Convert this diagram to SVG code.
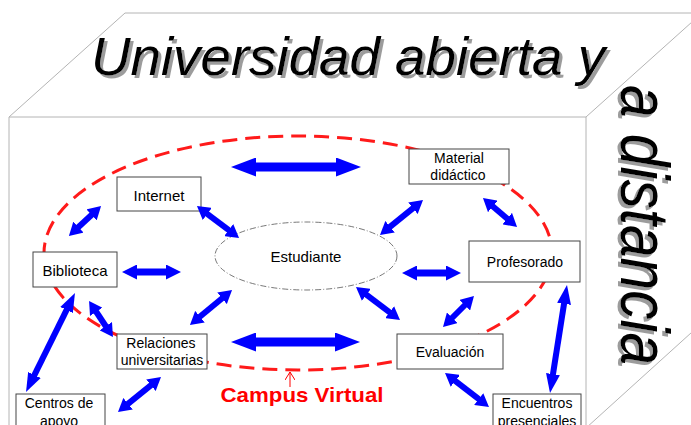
<svg xmlns="http://www.w3.org/2000/svg" width="691" height="425" viewBox="0 0 691 425">
<defs>
<style>
.cube{fill:none;stroke:#b4b4b4;stroke-width:1}
.box{fill:#fff;stroke:#444;stroke-width:1}
.lbl{font-family:"Liberation Sans",Arial,sans-serif;font-size:14px;fill:#000;text-anchor:middle}
.big{stroke:#0000ff;stroke-width:9;fill:none;marker-start:url(#hb);marker-end:url(#hb)}
.med{stroke:#0000ff;stroke-width:7;fill:none;marker-start:url(#hm);marker-end:url(#hm)}
.sm{stroke:#0000ff;stroke-width:6;fill:none;marker-start:url(#hs);marker-end:url(#hs)}
.lg{stroke:#0000ff;stroke-width:6;fill:none;marker-start:url(#hl);marker-end:url(#hl)}
.title{font-family:"Liberation Sans",Arial,sans-serif;font-style:italic;fill:#000;filter:url(#sh)}
</style>
<filter id="sh" x="-10%" y="-20%" width="130%" height="150%">
<feOffset in="SourceAlpha" dx="3" dy="3" result="o"/>
<feFlood flood-color="#9c9c9c"/>
<feComposite in2="o" operator="in" result="s"/>
<feMerge><feMergeNode in="s"/><feMergeNode in="SourceGraphic"/></feMerge>
</filter>
<marker id="hb" markerUnits="userSpaceOnUse" orient="auto-start-reverse" markerWidth="25" markerHeight="19" refX="1" refY="9.5" viewBox="0 0 25 19"><path d="M0,0 L25,9.5 L0,19 z" fill="#0000ff"/></marker>
<marker id="hm" markerUnits="userSpaceOnUse" orient="auto-start-reverse" markerWidth="15" markerHeight="15" refX="1" refY="7.5" viewBox="0 0 15 15"><path d="M0,0 L15,7.5 L0,15 z" fill="#0000ff"/></marker>
<marker id="hs" markerUnits="userSpaceOnUse" orient="auto-start-reverse" markerWidth="13" markerHeight="15" refX="1" refY="7.5" viewBox="0 0 13 15"><path d="M0,0 L13,7.5 L0,15 z" fill="#0000ff"/></marker>
<marker id="hl" markerUnits="userSpaceOnUse" orient="auto-start-reverse" markerWidth="19" markerHeight="14" refX="1" refY="7" viewBox="0 0 19 14"><path d="M0,0 L19,7 L0,14 z" fill="#0000ff"/></marker>
<marker id="ha" markerUnits="userSpaceOnUse" orient="auto" markerWidth="9" markerHeight="10" refX="8" refY="5" viewBox="0 0 9 10"><path d="M0,0 L8,5 L0,10" fill="none" stroke="#ff0000" stroke-width="1"/></marker>
</defs>
<rect width="691" height="425" fill="#fff"/>
<g id="cube">
<path class="cube" d="M9,117 L125,13 L691,13 M9,117 L586,117 L702,13 M9,117 L9,430 M586,117 L586,430 M586,428 L702,323"/>
</g>
<g id="title">
<text class="title" x="91" y="75" font-size="54" textLength="514" lengthAdjust="spacingAndGlyphs">Universidad abierta y</text>
<g transform="translate(621,85) rotate(90)">
<text class="title" x="0" y="0" font-size="68" textLength="280" lengthAdjust="spacingAndGlyphs">a distancia</text>
</g>
</g>
<g id="campus">
<ellipse cx="298" cy="253" rx="254" ry="117" fill="none" stroke="#ff1a1a" stroke-width="3" stroke-dasharray="15 8"/>
<line x1="290" y1="387" x2="290" y2="372" stroke="#ff0000" stroke-width="1" marker-end="url(#ha)"/>
<text x="302" y="402" font-family="Liberation Sans,Arial,sans-serif" font-size="21" font-weight="bold" fill="#ff0000" text-anchor="middle" textLength="163" lengthAdjust="spacingAndGlyphs">Campus Virtual</text>
</g>
<g id="estudiante">
<ellipse cx="306" cy="256" rx="91" ry="34" fill="#fff" stroke="#555" stroke-width="0.8" stroke-dasharray="6 2 1 2"/>
<text class="lbl" x="306" y="262" style="font-size:15px">Estudiante</text>
</g>
<g id="internet">
<rect class="box" x="117" y="177" width="84" height="34"/>
<text class="lbl" x="159" y="201" style="font-size:15px">Internet</text>
</g>
<g id="biblioteca">
<rect class="box" x="33" y="252" width="84" height="35"/>
<text class="lbl" x="75" y="276" style="font-size:15px">Biblioteca</text>
</g>
<g id="material">
<rect class="box" x="409" y="149" width="100" height="35"/>
<text class="lbl" x="459" y="163">Material</text>
<text class="lbl" x="458" y="180">didáctico</text>
</g>
<g id="profesorado">
<rect class="box" x="469" y="241" width="111" height="41"/>
<text class="lbl" x="525" y="267">Profesorado</text>
</g>
<g id="relaciones">
<rect class="box" x="117" y="334" width="90" height="35"/>
<text class="lbl" x="161" y="348">Relaciones</text>
<text class="lbl" x="162" y="365">universitarias</text>
</g>
<g id="evaluacion">
<rect class="box" x="397" y="334" width="106" height="35"/>
<text class="lbl" x="450" y="357">Evaluación</text>
</g>
<g id="centros">
<rect class="box" x="16" y="394" width="89" height="40"/>
<text class="lbl" x="59" y="408">Centros de</text>
<text class="lbl" x="59" y="426">apoyo</text>
</g>
<g id="encuentros">
<rect class="box" x="493" y="394" width="88" height="40"/>
<text class="lbl" x="537" y="408">Encuentros</text>
<text class="lbl" x="537" y="426">presenciales</text>
</g>
<g id="connectors">
<line class="big" x1="255" y1="167" x2="337" y2="167"/>
<line class="big" x1="255" y1="342" x2="336" y2="342"/>
<line class="med" x1="136" y1="272" x2="167" y2="272"/>
<line class="med" x1="416" y1="273" x2="447" y2="273"/>
<line class="sm" x1="92.3" y1="214.2" x2="77.7" y2="227.8"/>
<line class="sm" x1="206.5" y1="213.3" x2="229.5" y2="230.7"/>
<line class="sm" x1="413.7" y1="207.6" x2="389.3" y2="227.4"/>
<line class="sm" x1="492.1" y1="205.8" x2="507.9" y2="219.2"/>
<line class="sm" x1="222.8" y1="297.7" x2="199.2" y2="317.3"/>
<line class="sm" x1="95.7" y1="311" x2="106.3" y2="327"/>
<line class="lg" x1="67" y1="309.1" x2="34" y2="375.9"/>
<line class="sm" x1="151.7" y1="384.6" x2="127.3" y2="404.4"/>
<line class="sm" x1="365.6" y1="294.2" x2="390.4" y2="312.8"/>
<line class="sm" x1="465.5" y1="304.5" x2="451.5" y2="318.5"/>
<line class="lg" x1="564.2" y1="302.8" x2="552.8" y2="375.2"/>
<line class="sm" x1="454.5" y1="380.3" x2="479.5" y2="399.7"/>
</g>
</svg>
